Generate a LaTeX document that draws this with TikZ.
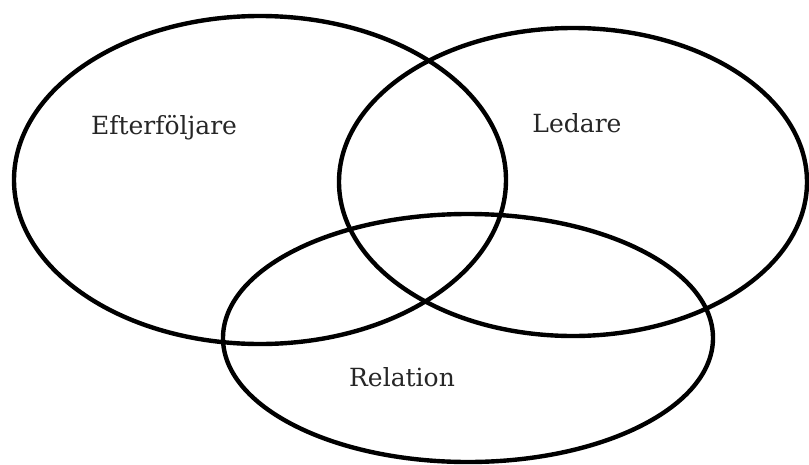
\documentclass[tikz,border=0pt]{standalone}
\usepackage{fontspec}
\setmainfont{DejaVu Serif}
\begin{document}
\begin{tikzpicture}[x=1pt,y=-1pt,
  setring/.style={draw=black,line width=4.4pt},
  lbl/.style={font=\fontsize{25}{28}\selectfont,text=black!85,inner sep=0pt}]
\useasboundingbox (0,0) rectangle (809,464);
\draw[setring] (260,180) ellipse [x radius=246, y radius=164];
\draw[setring] (573,182) ellipse [x radius=234, y radius=154];
\draw[setring] (468,338) ellipse [x radius=245, y radius=124];
\node[lbl] (f) at (164,128) {Efterföljare};
\node[lbl] (l) at (577,123) {Ledare};
\node[lbl] (r) at (402,377) {Relation};
\end{tikzpicture}
\end{document}
